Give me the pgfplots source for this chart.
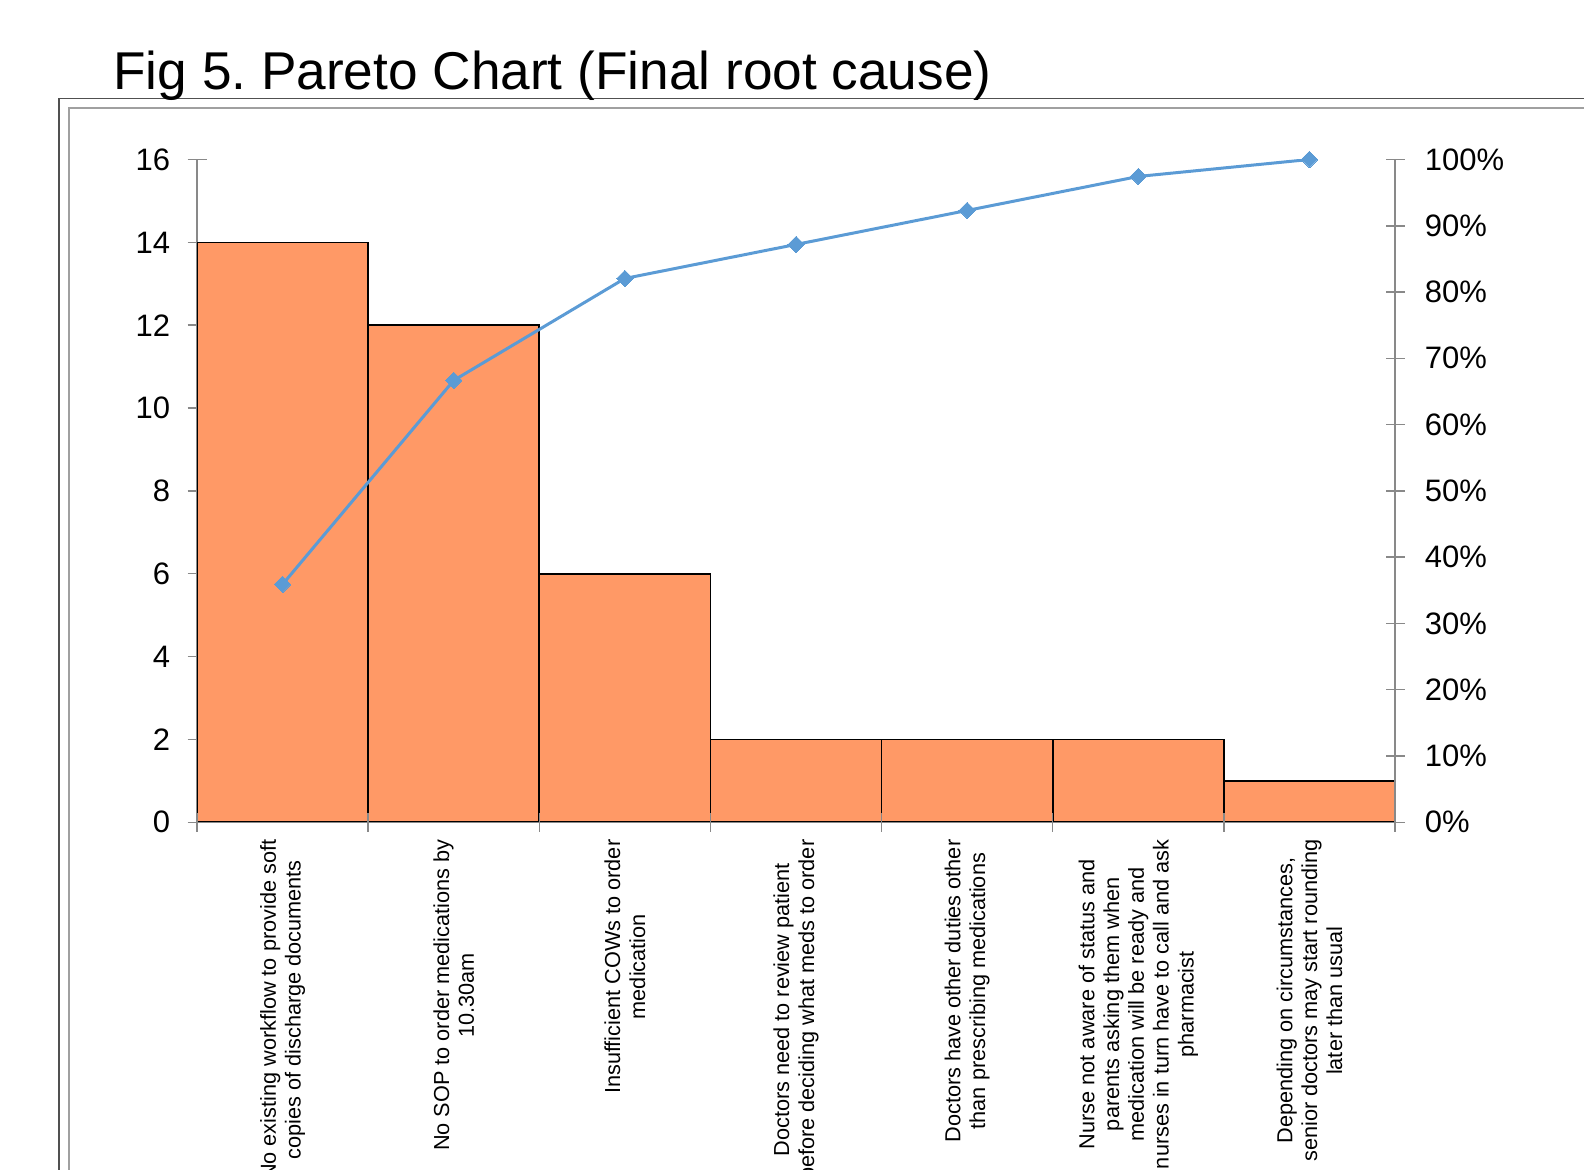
\documentclass[border=0pt]{standalone}
\usepackage{pgfplots}
\pgfplotsset{compat=1.18}
\usepackage{fontspec}
\setmainfont{Liberation Sans}
\frenchspacing
\definecolor{barorange}{HTML}{FF9966}
\definecolor{lineblue}{HTML}{5B9BD5}
\definecolor{axisgray}{HTML}{898989}
\definecolor{frameouter}{HTML}{505050}
\definecolor{frameinner}{HTML}{A0A0A0}
\begin{document}
\begin{tikzpicture}
\useasboundingbox (0,0) rectangle (792pt,585pt);
\clip (0,0) rectangle (792pt,585pt);
\draw[frameouter, line width=0.8pt] (29.5pt,-5pt) -- (29.5pt,535.65pt) -- (800pt,535.65pt);
\draw[frameinner, line width=0.8pt] (34.35pt,-5pt) -- (34.35pt,530.85pt) -- (800pt,530.85pt);
\begin{axis}[
  at={(98.5pt,173.85pt)}, anchor=south west,
  width=599pt, height=331.4pt, scale only axis,
  xmin=-0.5, xmax=6.5, ymin=0, ymax=16,
  axis x line*=bottom, axis y line*=left,
  axis line style={draw=axisgray, line width=0.75pt, -},
  tick style={draw=axisgray, line width=0.75pt},
  tick align=center, major tick length=9.5pt,
  ytick={0,2,...,16},
  xtick={0,...,6},
  xtick style={draw=none},
  xticklabels={
    {No existing workflow to provide soft\\copies of discharge documents},
    {No SOP to order medications by\\10.30am},
    {Insufficient COWs to order\\medication},
    {Doctors need to review patient\\before deciding what meds to order},
    {Doctors have other duties other\\than prescribing medications},
    {Nurse not aware of status and\\parents asking them when\\medication will be ready and\\nurses in turn have to call and ask\\pharmacist},
    {Depending on circumstances,\\senior doctors may start rounding\\later than usual}},
  xticklabel style={yshift=1pt, rotate=90, anchor=east, align=center, inner sep=0pt,
    font=\fontsize{10.85}{12.4}\selectfont},
  yticklabel style={font=\fontsize{15.5}{17}\selectfont, inner sep=0pt, xshift=-8.5pt},
  /pgf/number format/assume math mode=true,
  ybar, bar width=1,
]
\addplot[fill=barorange, draw=black, line width=0.8pt] coordinates {
  (0,14) (1,12) (2,6) (3,2) (4,2) (5,2) (6,1)};
\end{axis}
\begin{axis}[
  at={(98.5pt,173.85pt)}, anchor=south west,
  width=599pt, height=331.4pt, scale only axis,
  xmin=-0.5, xmax=6.5, ymin=0, ymax=100,
  axis x line*=bottom, axis y line*=right,
  axis line style={draw=axisgray, line width=0.75pt, -},
  tick style={draw=axisgray, line width=0.75pt},
  tick align=center, major tick length=9.5pt,
  xtick={-0.5,0.5,...,6.5}, xticklabels={},
  ytick={0,10,...,100},
  yticklabel={\pgfmathprintnumber{\tick}\%},
  yticklabel style={font=\fontsize{15.5}{17}\selectfont, inner sep=0pt, xshift=10pt},
  /pgf/number format/assume math mode=true,
]
\addplot[color=lineblue, line width=1.5pt, mark=square*, mark size=2.9pt,
  mark options={rotate=45, fill=lineblue, draw=lineblue, line width=0pt}] coordinates {
  (0,35.90) (1,66.67) (2,82.05) (3,87.18) (4,92.31) (5,97.44) (6,100)};
\end{axis}
\node[anchor=base west, inner sep=0pt] at (56.5pt,540pt) {\fontsize{26.6}{32}\selectfont Fig 5. Pareto Chart (Final root cause)};
\end{tikzpicture}
\end{document}
